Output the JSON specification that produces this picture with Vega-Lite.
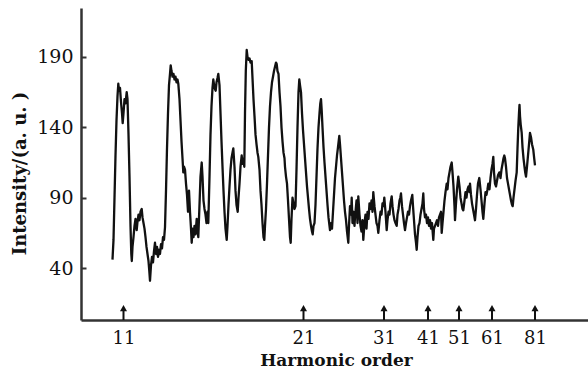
{
  "$schema": "https://vega.github.io/schema/vega-lite/v6.json",
  "width": 507,
  "height": 312,
  "autosize": "none",
  "padding": {"left": 81, "top": 8, "right": 0, "bottom": 54},
  "background": "white",
  "config": {"view": {"stroke": null}},
  "datasets": {
    "spectrum": [
      {"ch":112.5,"intensity":46},{"ch":113.5,"intensity":60},{"ch":114.5,"intensity":90},{"ch":115.5,"intensity":120},{"ch":116.5,"intensity":145},{"ch":117.5,"intensity":162},{"ch":118.3,"intensity":171},{"ch":119,"intensity":166},{"ch":120,"intensity":168},{"ch":121,"intensity":158},{"ch":122,"intensity":150},{"ch":122.7,"intensity":143},{"ch":123.5,"intensity":150},{"ch":124.5,"intensity":160},{"ch":125.5,"intensity":157},{"ch":126.7,"intensity":165},{"ch":127.5,"intensity":160},{"ch":128.5,"intensity":135},{"ch":129.5,"intensity":105},{"ch":130.5,"intensity":70},{"ch":131.3,"intensity":50},{"ch":131.8,"intensity":45},
      {"ch":132.5,"intensity":55},{"ch":133.5,"intensity":62},{"ch":134.5,"intensity":70},{"ch":135.5,"intensity":75},{"ch":136.7,"intensity":67},{"ch":137.5,"intensity":73},{"ch":138.5,"intensity":78},{"ch":139.5,"intensity":74},{"ch":140.5,"intensity":80},{"ch":141.7,"intensity":82},{"ch":142.5,"intensity":76},{"ch":143.5,"intensity":72},{"ch":144.5,"intensity":68},{"ch":145.5,"intensity":62},{"ch":146.5,"intensity":55},{"ch":147.5,"intensity":50},{"ch":148.5,"intensity":45},{"ch":149.3,"intensity":38},{"ch":150,"intensity":31},{"ch":151,"intensity":42},{"ch":152,"intensity":48},{"ch":153,"intensity":44},{"ch":154,"intensity":52},{"ch":155,"intensity":58},{"ch":156,"intensity":50},{"ch":157,"intensity":55},{"ch":158,"intensity":48},{"ch":159,"intensity":53},{"ch":160,"intensity":50},{"ch":161,"intensity":57},{"ch":162,"intensity":54},{"ch":163,"intensity":62},{"ch":164,"intensity":60},{"ch":165,"intensity":69},{"ch":166,"intensity":95},{"ch":167,"intensity":125},{"ch":168,"intensity":150},{"ch":169,"intensity":170},{"ch":170,"intensity":178},{"ch":170.7,"intensity":184},{"ch":171.5,"intensity":180},{"ch":172.5,"intensity":176},{"ch":173.5,"intensity":178},{"ch":174.5,"intensity":174},{"ch":175.5,"intensity":176},{"ch":176.5,"intensity":172},{"ch":177.5,"intensity":174},{"ch":178.3,"intensity":171},
      {"ch":179.5,"intensity":160},{"ch":180.5,"intensity":145},{"ch":181.5,"intensity":130},{"ch":182.5,"intensity":118},{"ch":183.3,"intensity":108},{"ch":184,"intensity":112},{"ch":185,"intensity":110},{"ch":186,"intensity":100},{"ch":187,"intensity":92},{"ch":188,"intensity":80},{"ch":189,"intensity":95},{"ch":190,"intensity":80},{"ch":191,"intensity":68},{"ch":191.7,"intensity":58},{"ch":192.5,"intensity":68},{"ch":193.5,"intensity":62},{"ch":194.5,"intensity":70},{"ch":195.5,"intensity":64},{"ch":196.7,"intensity":75},{"ch":197.5,"intensity":68},{"ch":198.3,"intensity":62},{"ch":199.5,"intensity":85},{"ch":200.5,"intensity":105},{"ch":201.7,"intensity":115},{"ch":202.5,"intensity":105},{"ch":203.5,"intensity":88},{"ch":204.5,"intensity":82},{"ch":205.5,"intensity":78},{"ch":206.5,"intensity":72},{"ch":207.5,"intensity":80},{"ch":208.3,"intensity":72},{"ch":209.5,"intensity":105},{"ch":210.5,"intensity":135},{"ch":211.5,"intensity":155},{"ch":212.5,"intensity":168},{"ch":213.3,"intensity":174},{"ch":214.5,"intensity":168},{"ch":215.7,"intensity":166},{"ch":216.5,"intensity":172},{"ch":217.5,"intensity":175},{"ch":218.3,"intensity":178},{"ch":219.5,"intensity":170},{"ch":220.5,"intensity":150},{"ch":221.5,"intensity":130},{"ch":222.5,"intensity":112},{"ch":223.5,"intensity":95},{"ch":224.5,"intensity":80},{"ch":225.5,"intensity":68},{"ch":226.7,"intensity":60},{"ch":227.5,"intensity":70},{"ch":228.5,"intensity":85},{"ch":229.5,"intensity":98},{"ch":230.5,"intensity":110},{"ch":231.5,"intensity":118},{"ch":232.5,"intensity":122},{"ch":233.3,"intensity":125},{"ch":234.5,"intensity":112},{"ch":235.5,"intensity":95},{"ch":236.5,"intensity":85},{"ch":237.7,"intensity":80},{"ch":238.5,"intensity":90},{"ch":239.5,"intensity":100},{"ch":240.5,"intensity":112},{"ch":241.7,"intensity":120},{"ch":242.5,"intensity":114},{"ch":243.5,"intensity":118},{"ch":244.3,"intensity":112},{"ch":245,"intensity":150},{"ch":245.8,"intensity":180},{"ch":246.7,"intensity":195},
      {"ch":247.5,"intensity":190},{"ch":248.5,"intensity":188},{"ch":249.5,"intensity":189},{"ch":250.5,"intensity":186},{"ch":251.7,"intensity":187},{"ch":252.5,"intensity":175},{"ch":253.5,"intensity":160},{"ch":254.5,"intensity":148},{"ch":255.5,"intensity":135},{"ch":256.5,"intensity":128},{"ch":257.5,"intensity":122},{"ch":258.3,"intensity":119},{"ch":259.5,"intensity":110},{"ch":260.5,"intensity":95},{"ch":261.5,"intensity":85},{"ch":262.5,"intensity":72},{"ch":263.5,"intensity":62},{"ch":264.3,"intensity":60},{"ch":265,"intensity":70},{"ch":266,"intensity":82},{"ch":267,"intensity":100},{"ch":268,"intensity":120},{"ch":269,"intensity":140},{"ch":270,"intensity":155},{"ch":271,"intensity":165},{"ch":272,"intensity":172},{"ch":273,"intensity":176},{"ch":274,"intensity":180},{"ch":275,"intensity":183},{"ch":276,"intensity":186},{"ch":276.7,"intensity":185},{"ch":277.5,"intensity":180},{"ch":278.5,"intensity":178},{"ch":279.5,"intensity":165},{"ch":280.5,"intensity":155},{"ch":281.5,"intensity":140},{"ch":282.5,"intensity":130},{"ch":283.5,"intensity":122},{"ch":284.5,"intensity":118},{"ch":285,"intensity":112},{"ch":286,"intensity":105},{"ch":287,"intensity":100},{"ch":288,"intensity":88},{"ch":289,"intensity":75},{"ch":290,"intensity":62},{"ch":290.7,"intensity":58},{"ch":291.5,"intensity":75},{"ch":292.5,"intensity":90},{"ch":293.5,"intensity":86},{"ch":294.5,"intensity":82},{"ch":295.5,"intensity":84},{"ch":296.5,"intensity":110},{"ch":297.5,"intensity":140},{"ch":298.5,"intensity":165},{"ch":299.3,"intensity":174},{"ch":300,"intensity":170},
      {"ch":301,"intensity":165},{"ch":302,"intensity":150},{"ch":303,"intensity":138},{"ch":304,"intensity":128},{"ch":305,"intensity":118},{"ch":306,"intensity":108},{"ch":307,"intensity":98},{"ch":308,"intensity":90},{"ch":309,"intensity":82},{"ch":310,"intensity":75},{"ch":311,"intensity":70},{"ch":312,"intensity":66},{"ch":312.7,"intensity":64},{"ch":313.5,"intensity":70},{"ch":314.5,"intensity":72},{"ch":315.5,"intensity":85},{"ch":316.5,"intensity":105},{"ch":317.5,"intensity":125},{"ch":318.5,"intensity":140},{"ch":319.5,"intensity":150},{"ch":320.3,"intensity":157},{"ch":321,"intensity":160},{"ch":321.7,"intensity":152},{"ch":322.5,"intensity":140},{"ch":323.5,"intensity":126},{"ch":324.5,"intensity":115},{"ch":325.5,"intensity":105},{"ch":326.5,"intensity":95},{"ch":327.5,"intensity":85},{"ch":328.5,"intensity":76},{"ch":329.5,"intensity":70},{"ch":330,"intensity":67},{"ch":331,"intensity":72},{"ch":332,"intensity":68},{"ch":333,"intensity":80},{"ch":334,"intensity":92},{"ch":335,"intensity":104},{"ch":336,"intensity":112},{"ch":337,"intensity":120},{"ch":338,"intensity":126},{"ch":339.3,"intensity":134},{"ch":340,"intensity":128},{"ch":341,"intensity":118},{"ch":342,"intensity":108},{"ch":343,"intensity":98},{"ch":344,"intensity":88},{"ch":345,"intensity":80},{"ch":346,"intensity":74},{"ch":347,"intensity":66},{"ch":348.3,"intensity":58},{"ch":349,"intensity":70},{"ch":350,"intensity":84},{"ch":351,"intensity":78},{"ch":351.7,"intensity":90},{"ch":352.5,"intensity":72},{"ch":353.5,"intensity":80},{"ch":354.5,"intensity":70},{"ch":355,"intensity":76},{"ch":356.5,"intensity":88},{"ch":357.5,"intensity":72},{"ch":358.3,"intensity":91},
      {"ch":359.5,"intensity":78},{"ch":360.5,"intensity":70},{"ch":361.5,"intensity":66},{"ch":362.5,"intensity":74},{"ch":363.3,"intensity":60},{"ch":364.5,"intensity":72},{"ch":365.5,"intensity":78},{"ch":366.5,"intensity":68},{"ch":367.5,"intensity":80},{"ch":368.5,"intensity":75},{"ch":369.5,"intensity":86},{"ch":370.5,"intensity":82},{"ch":371.5,"intensity":88},{"ch":372.5,"intensity":80},{"ch":373.3,"intensity":94},{"ch":374.5,"intensity":84},{"ch":375.5,"intensity":78},{"ch":376.5,"intensity":72},{"ch":377.5,"intensity":70},{"ch":378.3,"intensity":65},{"ch":379.5,"intensity":74},{"ch":380.5,"intensity":80},{"ch":381.5,"intensity":78},{"ch":382.5,"intensity":86},{"ch":383.5,"intensity":84},{"ch":384.3,"intensity":90},{"ch":385.5,"intensity":80},{"ch":386.7,"intensity":67},{"ch":387.5,"intensity":74},{"ch":388.5,"intensity":80},{"ch":389.5,"intensity":78},{"ch":390.5,"intensity":86},{"ch":391.7,"intensity":91},{"ch":392.5,"intensity":84},{"ch":393.5,"intensity":78},{"ch":394.5,"intensity":74},{"ch":395.5,"intensity":72},{"ch":396.7,"intensity":70},{"ch":397.5,"intensity":78},{"ch":398.5,"intensity":82},{"ch":399.5,"intensity":88},{"ch":400.3,"intensity":90},{"ch":401,"intensity":93},{"ch":402,"intensity":84},{"ch":403,"intensity":78},{"ch":404,"intensity":72},{"ch":405,"intensity":67},{"ch":406,"intensity":72},{"ch":407,"intensity":76},{"ch":408,"intensity":80},{"ch":409,"intensity":78},{"ch":410,"intensity":84},{"ch":411,"intensity":88},{"ch":412.3,"intensity":92},{"ch":413,"intensity":84},{"ch":414,"intensity":74},{"ch":415,"intensity":64},{"ch":416,"intensity":58},{"ch":416.7,"intensity":53},{"ch":417.5,"intensity":62},{"ch":418.5,"intensity":70},{"ch":419.5,"intensity":72},{"ch":420.5,"intensity":78},{"ch":421.5,"intensity":82},{"ch":422.5,"intensity":86},{"ch":423.3,"intensity":93},{"ch":424,"intensity":82},{"ch":425,"intensity":76},{"ch":426,"intensity":78},{"ch":427,"intensity":72},{"ch":428,"intensity":76},{"ch":429,"intensity":70},{"ch":430,"intensity":74},{"ch":431,"intensity":68},{"ch":432,"intensity":72},{"ch":433.3,"intensity":60},{"ch":434,"intensity":68},{"ch":435,"intensity":70},{"ch":436,"intensity":72},{"ch":437,"intensity":74},{"ch":438,"intensity":70},{"ch":439,"intensity":76},{"ch":440,"intensity":78},{"ch":441,"intensity":80},{"ch":441.7,"intensity":65},
      {"ch":442.5,"intensity":72},{"ch":443.5,"intensity":80},{"ch":444.5,"intensity":88},{"ch":445.5,"intensity":94},{"ch":446.7,"intensity":100},{"ch":447.5,"intensity":96},{"ch":448.5,"intensity":104},{"ch":449.5,"intensity":108},{"ch":450.5,"intensity":112},{"ch":451.7,"intensity":115},{"ch":452.5,"intensity":108},{"ch":453.5,"intensity":98},{"ch":454.5,"intensity":84},{"ch":455,"intensity":74},{"ch":456,"intensity":86},{"ch":457,"intensity":96},{"ch":458.3,"intensity":105},{"ch":459.5,"intensity":98},{"ch":460.5,"intensity":90},{"ch":461.5,"intensity":86},{"ch":462.5,"intensity":82},{"ch":463.3,"intensity":81},{"ch":464.5,"intensity":88},{"ch":465.5,"intensity":94},{"ch":466.5,"intensity":90},{"ch":467.5,"intensity":96},{"ch":468.5,"intensity":98},{"ch":469.5,"intensity":94},{"ch":470,"intensity":100},{"ch":471,"intensity":92},{"ch":472,"intensity":86},{"ch":473,"intensity":82},{"ch":474,"intensity":78},{"ch":475,"intensity":74},{"ch":476,"intensity":82},{"ch":477,"intensity":92},{"ch":478,"intensity":100},{"ch":479.3,"intensity":104},{"ch":480.5,"intensity":96},{"ch":481.5,"intensity":88},{"ch":482.5,"intensity":80},{"ch":483.3,"intensity":75},{"ch":484.5,"intensity":86},{"ch":485.5,"intensity":94},{"ch":486.5,"intensity":92},{"ch":487.5,"intensity":96},{"ch":488.3,"intensity":100},{"ch":489.5,"intensity":96},{"ch":490.5,"intensity":104},{"ch":491.5,"intensity":110},{"ch":492.5,"intensity":114},{"ch":493.3,"intensity":119},{"ch":494,"intensity":108},{"ch":495,"intensity":100},{"ch":496,"intensity":98},{"ch":497,"intensity":102},{"ch":498,"intensity":106},{"ch":499.3,"intensity":108},{"ch":500.5,"intensity":104},{"ch":501.5,"intensity":110},{"ch":502.5,"intensity":114},{"ch":503.5,"intensity":118},{"ch":504.3,"intensity":120},{"ch":505,"intensity":118},{"ch":506,"intensity":112},{"ch":507,"intensity":104},{"ch":508,"intensity":100},{"ch":509,"intensity":96},{"ch":510,"intensity":92},{"ch":511,"intensity":88},{"ch":512,"intensity":85},{"ch":512.7,"intensity":84},{"ch":513.5,"intensity":90},{"ch":514.5,"intensity":96},{"ch":515.5,"intensity":102},{"ch":516.7,"intensity":108},{"ch":517.5,"intensity":125},{"ch":518.3,"intensity":140},{"ch":519,"intensity":150},{"ch":519.5,"intensity":156},{"ch":520,"intensity":148},{"ch":520.7,"intensity":142},{"ch":521.7,"intensity":136},{"ch":522.5,"intensity":126},{"ch":523.5,"intensity":118},{"ch":524.5,"intensity":112},{"ch":525.2,"intensity":108},{"ch":526,"intensity":105},{"ch":527,"intensity":112},{"ch":528,"intensity":120},{"ch":529,"intensity":128},{"ch":530,"intensity":136},{"ch":531,"intensity":133},{"ch":532,"intensity":128},{"ch":533.3,"intensity":124},{"ch":534.2,"intensity":118},{"ch":535,"intensity":113}
    ],
    "harmonics": [
      {"ch":123.5,"order":"11","base":3.1,"tip":10,"head":11.5},
      {"ch":303.5,"order":"21","base":3.1,"tip":10,"head":11.5},
      {"ch":384,"order":"31","base":3.1,"tip":10,"head":11.5},
      {"ch":428,"order":"41","base":3.1,"tip":10,"head":11.5},
      {"ch":459,"order":"51","base":3.1,"tip":10,"head":11.5},
      {"ch":492,"order":"61","base":3.1,"tip":10,"head":11.5},
      {"ch":535,"order":"81","base":3.1,"tip":10,"head":11.5}
    ]
  },
  "layer": [
    {
      "data": {"name": "spectrum"},
      "mark": {"type": "line", "color": "#111", "strokeWidth": 2.3, "strokeJoin": "round", "clip": true},
      "encoding": {
        "x": {
          "field": "ch", "type": "quantitative",
          "scale": {"domain": [81, 588], "nice": false, "zero": false},
          "axis": {
            "title": "Harmonic order",
            "values": [123.5, 303.5, 384, 428, 459, 492, 535],
            "labelExpr": "datum.value == 123.5 ? '11' : datum.value == 303.5 ? '21' : datum.value == 384 ? '31' : datum.value == 428 ? '41' : datum.value == 459 ? '51' : datum.value == 492 ? '61' : '81'",
            "ticks": false, "grid": false,
            "domainColor": "#333", "domainWidth": 2.5,
            "labelFont": "DejaVu Serif", "labelFontSize": 18, "labelColor": "#111",
            "labelPadding": 9, "labelFlush": false, "labelOverlap": false,
            "titleFont": "DejaVu Serif", "titleFontSize": 17, "titleFontWeight": "bold", "titleColor": "#111",
            "titleX": 255, "titleY": 40, "titleAlign": "center", "titleBaseline": "middle"
          }
        },
        "y": {
          "field": "intensity", "type": "quantitative",
          "scale": {"domain": [3.1, 224.8], "nice": false, "zero": false},
          "axis": {
            "title": "Intensity/(a. u. )",
            "values": [40, 90, 140, 190],
            "grid": false, "ticks": true, "tickSize": -5, "tickColor": "#333", "tickWidth": 2,
            "domainColor": "#333", "domainWidth": 2.5,
            "labelFont": "DejaVu Serif", "labelFontSize": 19, "labelColor": "#111",
            "labelPadding": 13,
            "titleFont": "DejaVu Serif", "titleFontSize": 18, "titleFontWeight": "bold", "titleColor": "#111",
            "titleAngle": -90, "titleX": -61, "titleY": 165, "titleAlign": "center", "titleBaseline": "middle"
          }
        }
      }
    },
    {
      "mark": {"type": "rule", "color": "#333", "strokeWidth": 2.5},
      "encoding": {"y": {"datum": 224.8, "type": "quantitative"}}
    },
    {
      "data": {"name": "harmonics"},
      "mark": {"type": "rule", "color": "#111", "strokeWidth": 2},
      "encoding": {
        "x": {"field": "ch", "type": "quantitative"},
        "y": {"field": "base", "type": "quantitative"},
        "y2": {"field": "tip"}
      }
    },
    {
      "data": {"name": "harmonics"},
      "mark": {"type": "point", "shape": "triangle-up", "filled": true, "color": "#111", "size": 50, "opacity": 1},
      "encoding": {
        "x": {"field": "ch", "type": "quantitative"},
        "y": {"field": "head", "type": "quantitative"}
      }
    }
  ]
}
